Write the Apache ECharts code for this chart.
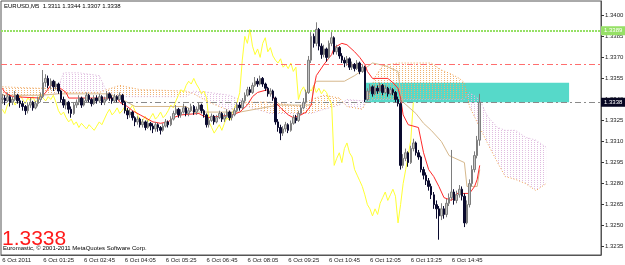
<!DOCTYPE html>
<html>
<head>
<meta charset="utf-8">
<script src="https://cdn.jsdelivr.net/npm/echarts@6/dist/echarts.min.js"></script>
<style>
  html, body { margin: 0; padding: 0; background: #fff; }
  #chart { width: 625px; height: 265px; }
</style>
</head>
<body>
<div id="chart"></div>
<script>
// EURUSD M5, 6 Oct 2011 - bars
const slotCount = 235; // bar slots incl. empty space on the right
const xTickLabels = ['6 Oct 2011', '6 Oct 01:25', '6 Oct 02:45', '6 Oct 04:05', '6 Oct 05:25', '6 Oct 06:45',
  '6 Oct 08:05', '6 Oct 09:25', '6 Oct 10:45', '6 Oct 12:05', '6 Oct 13:25', '6 Oct 14:45'];
const yTickLabels = [1.3235, 1.3250, 1.3265, 1.3280, 1.3295, 1.3310, 1.3325, 1.3340, 1.3355, 1.3370, 1.3385, 1.3400];

const opens = [
  1.3340, 1.3341, 1.3339, 1.3342, 1.3338, 1.3340, 1.3343, 1.3339, 1.3337, 1.3335,
  1.3332, 1.3336, 1.3338, 1.3334, 1.3337, 1.3340, 1.3342, 1.3352, 1.3355, 1.3350,
  1.3353, 1.3349, 1.3351, 1.3346, 1.3340, 1.3336, 1.3338, 1.3333, 1.3330, 1.3336,
  1.3338, 1.3341, 1.3336, 1.3339, 1.3343, 1.3340, 1.3337, 1.3341, 1.3339, 1.3342,
  1.3338, 1.3340, 1.3344, 1.3341, 1.3339, 1.3342, 1.3340, 1.3343, 1.3338, 1.3332,
  1.3329, 1.3331, 1.3327, 1.3324, 1.3326, 1.3322, 1.3324, 1.3320, 1.3323, 1.3321,
  1.3319, 1.3322, 1.3320, 1.3318, 1.3321, 1.3324, 1.3322, 1.3326, 1.3330, 1.3333,
  1.3329, 1.3331, 1.3334, 1.3330, 1.3332, 1.3335, 1.3331, 1.3333, 1.3336, 1.3332,
  1.3329, 1.3322, 1.3325, 1.3328, 1.3324, 1.3327, 1.3330, 1.3326, 1.3328, 1.3331,
  1.3327, 1.3329, 1.3332, 1.3336, 1.3334, 1.3339, 1.3343, 1.3347, 1.3345, 1.3350,
  1.3353, 1.3351, 1.3355, 1.3351, 1.3348, 1.3344, 1.3346, 1.3341, 1.3324, 1.3320,
  1.3316, 1.3319, 1.3322, 1.3318, 1.3323, 1.3327, 1.3325, 1.3330, 1.3334, 1.3338,
  1.3345, 1.3368, 1.3385, 1.3380, 1.3390, 1.3378, 1.3372, 1.3376, 1.3370, 1.3380,
  1.3384, 1.3374, 1.3377, 1.3371, 1.3368, 1.3366, 1.3369, 1.3363, 1.3365, 1.3362,
  1.3366, 1.3360, 1.3363, 1.3340, 1.3346, 1.3349, 1.3344, 1.3348, 1.3346, 1.3350,
  1.3345, 1.3348, 1.3344, 1.3347, 1.3345, 1.3340, 1.3337, 1.3293, 1.3298, 1.3302,
  1.3295, 1.3305, 1.3309, 1.3302, 1.3299, 1.3290, 1.3286, 1.3282, 1.3278, 1.3272,
  1.3265, 1.3262, 1.3257, 1.3262, 1.3258, 1.3266, 1.3270, 1.3274, 1.3268, 1.3272,
  1.3276, 1.3271, 1.3252, 1.3265, 1.3280, 1.3290, 1.3300, 1.3311
];
const highs = [
  1.3344, 1.3343, 1.3345, 1.3343, 1.3342, 1.3346, 1.3344, 1.3341, 1.3339, 1.3336,
  1.3338, 1.3341, 1.3339, 1.3339, 1.3342, 1.3345, 1.3361, 1.3358, 1.3357, 1.3355,
  1.3354, 1.3353, 1.3352, 1.3347, 1.3342, 1.3340, 1.3339, 1.3335, 1.3338, 1.3340,
  1.3343, 1.3342, 1.3341, 1.3345, 1.3344, 1.3341, 1.3343, 1.3343, 1.3344, 1.3343,
  1.3342, 1.3346, 1.3345, 1.3343, 1.3344, 1.3343, 1.3345, 1.3344, 1.3339, 1.3334,
  1.3333, 1.3332, 1.3328, 1.3328, 1.3327, 1.3326, 1.3325, 1.3325, 1.3324, 1.3323,
  1.3324, 1.3323, 1.3321, 1.3323, 1.3326, 1.3325, 1.3328, 1.3332, 1.3336, 1.3334,
  1.3333, 1.3337, 1.3335, 1.3334, 1.3337, 1.3336, 1.3335, 1.3338, 1.3337, 1.3333,
  1.3330, 1.3327, 1.3330, 1.3329, 1.3329, 1.3332, 1.3331, 1.3330, 1.3333, 1.3332,
  1.3331, 1.3334, 1.3338, 1.3338, 1.3341, 1.3345, 1.3349, 1.3349, 1.3352, 1.3356,
  1.3355, 1.3357, 1.3356, 1.3352, 1.3349, 1.3348, 1.3347, 1.3342, 1.3326, 1.3322,
  1.3321, 1.3324, 1.3323, 1.3325, 1.3329, 1.3329, 1.3332, 1.3336, 1.3341, 1.3347,
  1.3371, 1.3388, 1.3387, 1.3395, 1.3391, 1.3380, 1.3379, 1.3377, 1.3382, 1.3388,
  1.3385, 1.3379, 1.3378, 1.3373, 1.3370, 1.3371, 1.3370, 1.3367, 1.3366, 1.3368,
  1.3367, 1.3365, 1.3364, 1.3348, 1.3351, 1.3350, 1.3350, 1.3350, 1.3352, 1.3351,
  1.3350, 1.3349, 1.3349, 1.3348, 1.3346, 1.3342, 1.3338, 1.3301, 1.3305, 1.3303,
  1.3307, 1.3312, 1.3310, 1.3304, 1.3300, 1.3292, 1.3288, 1.3284, 1.3280, 1.3274,
  1.3268, 1.3264, 1.3266, 1.3264, 1.3269, 1.3273, 1.3304, 1.3276, 1.3275, 1.3279,
  1.3278, 1.3273, 1.3268, 1.3283, 1.3293, 1.3303, 1.3314, 1.3344
];
const lows = [
  1.3337, 1.3336, 1.3338, 1.3335, 1.3336, 1.3339, 1.3337, 1.3334, 1.3332, 1.3329,
  1.3330, 1.3334, 1.3332, 1.3333, 1.3335, 1.3338, 1.3341, 1.3349, 1.3348, 1.3347,
  1.3346, 1.3347, 1.3344, 1.3338, 1.3334, 1.3333, 1.3330, 1.3327, 1.3329, 1.3334,
  1.3336, 1.3334, 1.3335, 1.3338, 1.3338, 1.3335, 1.3336, 1.3337, 1.3338, 1.3336,
  1.3336, 1.3339, 1.3339, 1.3337, 1.3338, 1.3338, 1.3339, 1.3336, 1.3330, 1.3326,
  1.3327, 1.3325, 1.3321, 1.3322, 1.3320, 1.3320, 1.3318, 1.3319, 1.3318, 1.3316,
  1.3317, 1.3317, 1.3315, 1.3317, 1.3320, 1.3320, 1.3321, 1.3325, 1.3329, 1.3327,
  1.3327, 1.3330, 1.3328, 1.3328, 1.3331, 1.3329, 1.3329, 1.3332, 1.3330, 1.3327,
  1.3320, 1.3320, 1.3324, 1.3322, 1.3323, 1.3326, 1.3324, 1.3324, 1.3327, 1.3325,
  1.3325, 1.3328, 1.3331, 1.3332, 1.3333, 1.3338, 1.3342, 1.3343, 1.3344, 1.3349,
  1.3349, 1.3350, 1.3349, 1.3346, 1.3342, 1.3342, 1.3339, 1.3322, 1.3317, 1.3311,
  1.3314, 1.3317, 1.3316, 1.3317, 1.3322, 1.3323, 1.3324, 1.3329, 1.3333, 1.3337,
  1.3344, 1.3366, 1.3377, 1.3378, 1.3375, 1.3369, 1.3370, 1.3367, 1.3369, 1.3378,
  1.3372, 1.3372, 1.3369, 1.3366, 1.3363, 1.3364, 1.3361, 1.3361, 1.3360, 1.3361,
  1.3358, 1.3359, 1.3338, 1.3339, 1.3345, 1.3342, 1.3343, 1.3344, 1.3345, 1.3343,
  1.3344, 1.3342, 1.3343, 1.3343, 1.3338, 1.3335, 1.3290, 1.3291, 1.3296, 1.3292,
  1.3294, 1.3303, 1.3300, 1.3297, 1.3288, 1.3283, 1.3279, 1.3275, 1.3269, 1.3262,
  1.3255, 1.3240, 1.3254, 1.3255, 1.3256, 1.3264, 1.3268, 1.3265, 1.3266, 1.3270,
  1.3268, 1.3249, 1.3251, 1.3263, 1.3278, 1.3288, 1.3298, 1.3307
];
const closes = [
  1.3341, 1.3339, 1.3342, 1.3338, 1.3340, 1.3343, 1.3339, 1.3337, 1.3335, 1.3332,
  1.3336, 1.3338, 1.3334, 1.3337, 1.3340, 1.3342, 1.3352, 1.3355, 1.3350, 1.3353,
  1.3349, 1.3351, 1.3346, 1.3340, 1.3336, 1.3338, 1.3333, 1.3330, 1.3336, 1.3338,
  1.3341, 1.3336, 1.3339, 1.3343, 1.3340, 1.3337, 1.3341, 1.3339, 1.3342, 1.3338,
  1.3340, 1.3344, 1.3341, 1.3339, 1.3342, 1.3340, 1.3343, 1.3338, 1.3332, 1.3329,
  1.3331, 1.3327, 1.3324, 1.3326, 1.3322, 1.3324, 1.3320, 1.3323, 1.3321, 1.3319,
  1.3322, 1.3320, 1.3318, 1.3321, 1.3324, 1.3322, 1.3326, 1.3330, 1.3333, 1.3329,
  1.3331, 1.3334, 1.3330, 1.3332, 1.3335, 1.3331, 1.3333, 1.3336, 1.3332, 1.3329,
  1.3322, 1.3325, 1.3328, 1.3324, 1.3327, 1.3330, 1.3326, 1.3328, 1.3331, 1.3327,
  1.3329, 1.3332, 1.3336, 1.3334, 1.3339, 1.3343, 1.3347, 1.3345, 1.3350, 1.3353,
  1.3351, 1.3355, 1.3351, 1.3348, 1.3344, 1.3346, 1.3341, 1.3324, 1.3320, 1.3316,
  1.3319, 1.3322, 1.3318, 1.3323, 1.3327, 1.3325, 1.3330, 1.3334, 1.3338, 1.3345,
  1.3368, 1.3385, 1.3380, 1.3390, 1.3378, 1.3372, 1.3376, 1.3370, 1.3380, 1.3384,
  1.3374, 1.3377, 1.3371, 1.3368, 1.3366, 1.3369, 1.3363, 1.3365, 1.3362, 1.3366,
  1.3360, 1.3363, 1.3340, 1.3346, 1.3349, 1.3344, 1.3348, 1.3346, 1.3350, 1.3345,
  1.3348, 1.3344, 1.3347, 1.3345, 1.3340, 1.3337, 1.3293, 1.3298, 1.3302, 1.3295,
  1.3305, 1.3309, 1.3302, 1.3299, 1.3290, 1.3286, 1.3282, 1.3278, 1.3272, 1.3265,
  1.3262, 1.3257, 1.3262, 1.3258, 1.3266, 1.3270, 1.3274, 1.3268, 1.3272, 1.3276,
  1.3271, 1.3252, 1.3265, 1.3280, 1.3290, 1.3300, 1.3311, 1.3338
];

// Ichimoku lines, read at turning points: [bar index, price]
const tenkan = [[0,1.3348],[1,1.3345],[4,1.3342],[15,1.3341],[17,1.3345],[19,1.3350],[22,1.3349],[25,1.3345],[26,1.3341],
  [45,1.3341],[46,1.3338],[49,1.3335],[51,1.3332],[54,1.3329],[59,1.3324],[62,1.3323],[65,1.3324],[67,1.3327],[70,1.3329],
  [77,1.3330],[80,1.3327],[90,1.3329],[93,1.3331],[96,1.3336],[98,1.3342],[100,1.3345],[104,1.3347],[106,1.3343],[107,1.3338],
  [109,1.3334],[112,1.3329],[114,1.3327],[117,1.3329],[119,1.3331],[121,1.3336],[122,1.3348],[123,1.3357],[126,1.3365],
  [129,1.3372],[130,1.3377],[133,1.3380],[135,1.3379],[138,1.3374],[140,1.3370],[142,1.3365],[143,1.3360],[145,1.3355],
  [151,1.3355],[153,1.3352],[155,1.3348],[156,1.3341],[157,1.3329],[159,1.3322],[163,1.3320],[164,1.3311],[165,1.3302],
  [167,1.3290],[169,1.3285],[171,1.3278],[173,1.3270],[176,1.3268],[178,1.3273],[183,1.3273],[185,1.3278],[186,1.3283],[187,1.3293]];
const kijun = [[0,1.3343],[15,1.3343],[22,1.3344],[42,1.3344],[47,1.3340],[52,1.3335],[72,1.3335],[75,1.3331],[93,1.3331],
  [108,1.3336],[121,1.3336],[122,1.3350],[123,1.3353],[134,1.3353],[138,1.3357],[142,1.3362],[145,1.3366],[150,1.3364],
  [155,1.3360],[156,1.3345],[157,1.3338],[162,1.3330],[165,1.3323],[168,1.3318],[172,1.3310],[175,1.3300],[181,1.3295],
  [182,1.3278],[186,1.3278],[187,1.3290]];
const cloudIdx = [0, 14, 21, 24, 30, 38, 41, 46, 54, 72, 75, 81, 89, 94, 96, 105, 117, 121, 126, 132,
  135, 141, 143, 146, 149, 155, 168, 172, 176, 179, 181, 183, 187, 190, 194, 197, 201, 205, 209, 213];
const spanA = [1.3349, 1.3348, 1.3348, 1.3345, 1.3345, 1.3345, 1.3347, 1.3350, 1.3347, 1.3346,
  1.3344, 1.3338, 1.3332, 1.3337, 1.3338, 1.3338, 1.3335, 1.3340, 1.3343, 1.3341,
  1.3335, 1.3333, 1.3340, 1.3356, 1.3364, 1.3366, 1.3366, 1.3361, 1.3358, 1.3355,
  1.3352, 1.3335, 1.3320, 1.3309, 1.3295, 1.3285, 1.3283, 1.3280, 1.3275, 1.3280];
const spanB = [1.3343, 1.3343, 1.3344, 1.3359, 1.3359, 1.3357, 1.3345, 1.3342, 1.3342, 1.3342,
  1.3346, 1.3345, 1.3343, 1.3339, 1.3335, 1.3330, 1.3330, 1.3330, 1.3333, 1.3336,
  1.3340, 1.3339, 1.3339, 1.3340, 1.3340, 1.3340, 1.3340, 1.3340, 1.3340, 1.3340,
  1.3340, 1.3345, 1.3340, 1.3328, 1.3320, 1.3318, 1.3318, 1.3313, 1.3311, 1.3306];

const levelLines = [1.3389, 1.3365];   // green and red horizontal levels
const zoneStart = 142, zoneEnd = 222;  // turquoise rectangle (bar slots)
const zonePrices = [1.3338, 1.3352];

const FONT = '"Liberation Sans", Arial, sans-serif';
const last = closes.length - 1;
const f4 = v => v.toFixed(4);

function pad(n) { return String(n).padStart(2, '0'); }
const categories = Array.from({ length: slotCount }, (_, i) => {
  const m = 5 + i * 5;
  return '6 Oct ' + pad(Math.floor(m / 60)) + ':' + pad(m % 60);
});
const showTick = i => i % 16 === 0 && i / 16 < xTickLabels.length;

// chikou span = close shifted back 26 bars
const chikou = categories.map((_, i) => (i + 26 <= last ? closes[i + 26] : null));

function dotPattern(color) {
  const c = document.createElement('canvas');
  c.width = 3; c.height = 2;
  const g = c.getContext('2d');
  g.fillStyle = color;
  g.fillRect(0, 0, 1, 1);
  return { image: c, repeat: 'repeat' };
}
const sandFill = dotPattern('#f0b070');
const thistleFill = dotPattern('#e0bce0');

const cloudRows = cloudIdx.slice(0, -1).map((x, k) =>
  [x, spanA[k], spanB[k], cloudIdx[k + 1], spanA[k + 1], spanB[k + 1]]);

const chart = echarts.init(document.getElementById('chart'));

chart.setOption({
  animation: false,
  backgroundColor: '#fff',
  grid: { left: 1, right: 24, top: 1, bottom: 10, show: true, borderColor: '#555', borderWidth: 1, outerBoundsMode: 'none' },
  xAxis: {
    type: 'category',
    data: categories,
    boundaryGap: true,
    axisLine: { lineStyle: { color: '#555' } },
    axisTick: { alignWithLabel: true, interval: showTick, length: 3, lineStyle: { color: '#333' } },
    axisLabel: {
      interval: showTick, align: 'left', margin: 2,
      fontSize: 6, fontFamily: FONT, color: '#222',
      formatter: (v, i) => xTickLabels[i / 16] || ''
    },
    splitLine: { show: false }
  },
  yAxis: {
    type: 'value',
    position: 'right',
    min: 1.32291,
    max: 1.34102,
    axisLine: { show: true, lineStyle: { color: '#555' } },
    axisTick: { show: true, length: 3, customValues: yTickLabels, lineStyle: { color: '#333' } },
    axisLabel: { customValues: yTickLabels, formatter: v => f4(v), margin: 4, fontSize: 6, fontFamily: FONT, color: '#222' },
    splitLine: { show: false }
  },
  graphic: [
    { type: 'text', left: 4, top: 3, z: 20,
      style: { text: `EURUSD,M5  ${f4(opens[last])} ${f4(highs[last])} ${f4(lows[last])} ${f4(closes[last])}`,
        fontSize: 6, fontFamily: FONT, fill: '#000' } },
    { type: 'text', left: 2, top: 229, z: 20,
      style: { text: f4(closes[last]), fontSize: 21, fontFamily: FONT, fill: '#ff1a1a' } },
    { type: 'text', left: 3, top: 245, z: 21,
      style: { text: 'Euromastic, © 2001-2011 MetaQuotes Software Corp.', fontSize: 6, fontFamily: FONT, fill: '#000' } }
  ],
  series: [
    {
      name: 'Kumo',
      type: 'custom',
      z: 1,
      silent: true,
      clip: true,
      data: cloudRows,
      renderItem: (params, api) => {
        const a0 = api.value(1), b0 = api.value(2), a1 = api.value(4), b1 = api.value(5);
        const p0 = api.coord([api.value(0), a0]);
        const p1 = api.coord([api.value(3), a1]);
        const q1 = api.coord([api.value(3), b1]);
        const q0 = api.coord([api.value(0), b0]);
        const poly = (pts, up) => ({ type: 'polygon', shape: { points: pts }, style: { fill: up ? sandFill : thistleFill } });
        const d0 = a0 - b0, d1 = a1 - b1;
        if (d0 * d1 < 0) {
          const t = d0 / (d0 - d1);
          const m = [p0[0] + (p1[0] - p0[0]) * t, p0[1] + (p1[1] - p0[1]) * t];
          return { type: 'group', children: [poly([p0, m, q0], d0 > 0), poly([m, p1, q1], d1 > 0)] };
        }
        return poly([p0, p1, q1, q0], d0 + d1 > 0);
      }
    },
    {
      name: 'Senkou A', type: 'line', z: 1, silent: true, showSymbol: false,
      data: cloudIdx.map((x, k) => [x, spanA[k]]),
      lineStyle: { color: '#f0a050', width: 1, type: [1, 2] }
    },
    {
      name: 'Senkou B', type: 'line', z: 1, silent: true, showSymbol: false,
      data: cloudIdx.map((x, k) => [x, spanB[k]]),
      lineStyle: { color: '#dcb4dc', width: 1, type: [1, 2] }
    },
    {
      name: 'Zone', type: 'line', z: 2, data: [],
      markArea: {
        silent: true,
        itemStyle: { color: '#56d9c9', opacity: 1 },
        data: [[{ xAxis: zoneStart, yAxis: zonePrices[0] }, { xAxis: zoneEnd, yAxis: zonePrices[1] }]]
      }
    },
    {
      name: 'Levels', type: 'line', z: 3, data: [],
      markLine: {
        silent: true, symbol: 'none', animation: false, precision: 4,
        label: { position: 'end', distance: 0, fontSize: 6, fontFamily: FONT, padding: [2, 3, 1, 3], formatter: p => f4(p.value) },
        data: [
          { yAxis: levelLines[0], lineStyle: { color: '#96e066', width: 2, type: [2, 1] },
            label: { show: true, color: '#fff', backgroundColor: '#96e066' } },
          { yAxis: levelLines[1], lineStyle: { color: '#ff6e6e', width: 1, type: [6, 3, 2, 3] }, label: { show: false } },
          { yAxis: closes[last], lineStyle: { color: '#8a8a8a', width: 1, type: [6, 3, 2, 3] },
            label: { show: true, color: '#fff', backgroundColor: '#060622' } }
        ]
      }
    },
    {
      name: 'Chikou', type: 'line', z: 4, silent: true, showSymbol: false,
      data: chikou, lineStyle: { color: '#ffff33', width: 1 }
    },
    {
      name: 'Kijun', type: 'line', z: 4, silent: true, showSymbol: false,
      data: kijun, lineStyle: { color: '#d6b88c', width: 1 }
    },
    {
      name: 'Tenkan', type: 'line', z: 4, silent: true, showSymbol: false,
      data: tenkan, lineStyle: { color: '#ff2a2a', width: 1 }
    },
    {
      name: 'EURUSD', type: 'candlestick', z: 5, barWidth: 2,
      data: closes.map((c, i) => [opens[i], c, lows[i], highs[i]]),
      itemStyle: { color: '#c4c4c4', color0: '#0a0a2e', borderColor: '#7e7e7e', borderColor0: '#0a0a2e', borderWidth: 1 }
    }
  ]
});
</script>
</body>
</html>
